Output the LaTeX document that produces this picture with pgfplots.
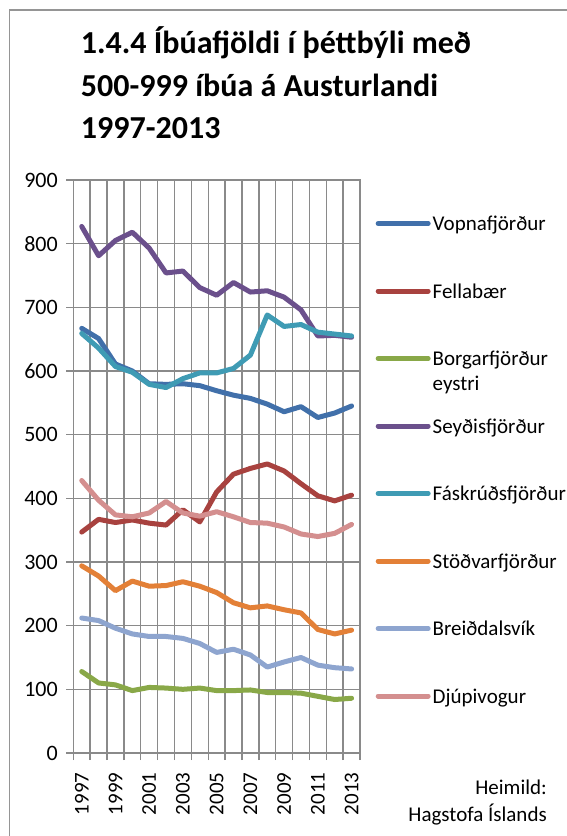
\documentclass[border=0pt]{standalone}
\usepackage{pgfplots}
\pgfplotsset{compat=1.18}
\usepackage{fontspec}
\setmainfont{Carlito}
\definecolor{cVop}{HTML}{4170AA}
\definecolor{cFel}{HTML}{A8423F}
\definecolor{cBor}{HTML}{89A848}
\definecolor{cSey}{HTML}{6B508C}
\definecolor{cFas}{HTML}{3F9BB4}
\definecolor{cSto}{HTML}{E38037}
\definecolor{cBre}{HTML}{8EA5CF}
\definecolor{cDju}{HTML}{D48F8F}
\definecolor{gridgray}{HTML}{8A8A8A}
\definecolor{framegray}{HTML}{959595}
\newcommand\ticksize{\fontsize{21}{25}\selectfont}
\pgfplotstableread{
i Vop Fel Bor Sey Fas Sto Bre Dju
0 667 347 128 827 659 294 212 428
1 651 367 110 781 636 278 208 397
2 611 362 107 805 607 255 196 374
3 600 366 98 818 598 270 187 371
4 580 361 103 793 579 262 183 377
5 579 358 102 754 574 263 183 395
6 580 382 100 757 588 269 180 377
7 577 363 102 731 597 262 172 372
8 569 410 98 719 597 252 158 379
9 562 438 98 739 604 236 163 371
10 557 447 99 724 625 228 154 362
11 548 454 95 726 688 231 135 361
12 536 443 95 716 670 225 143 355
13 544 423 94 696 673 220 150 344
14 527 404 89 655 661 194 138 340
15 534 396 84 656 658 187 134 345
16 545 405 86 653 655 193 132 359
}\datatable
\begin{document}
\begin{tikzpicture}[x=1pt,y=1pt]
\draw[framegray, line width=1.6pt] (9.5,-40) -- (9.5,826) -- (640,826);
\begin{axis}[
  at={(73.3pt,83pt)}, anchor=south west,
  scale only axis, width=286.7pt, height=573pt,
  xmin=-0.5, xmax=16.5, ymin=0, ymax=900,
  xtick={0,2,...,16},
  xticklabels={1997,1999,2001,2003,2005,2007,2009,2011,2013},
  minor xtick={-0.5,0.5,...,16.5},
  ytick={0,100,...,900},
  yticklabels={0,100,200,300,400,500,600,700,800,900},
  xminorgrids=true, xmajorgrids=false, ymajorgrids=true,
  grid style={gridgray, line width=1.4pt},
  minor grid style={gridgray, line width=1.4pt},
  major grid style={gridgray, line width=1.4pt},
  axis line style={gridgray, line width=1.4pt},
  tick align=outside, xtick pos=lower, ytick pos=left,
  major tick length=7pt, minor tick length=7pt,
  tick style={gridgray, line width=1.4pt},
  major x tick style={draw=none},
  xticklabel style={rotate=90, anchor=east, font=\ticksize},
  yticklabel style={font=\fontsize{22}{26}\selectfont, xshift=-5pt},
  xticklabel shift=9pt,
  legend cell align=left,
  legend image code/.code={\draw[#1, line cap=round] (0pt,0pt) -- (50pt,0pt);},
  legend style={at={(axis description cs:1.054,0.9419)}, anchor=north west,
    draw=none, fill=none, font=\ticksize, inner sep=0pt, row sep=47.5pt,
    nodes={inner sep=0pt, text height=17pt, text depth=3pt},
    /tikz/every odd column/.append style={column sep=2pt}},
  every axis plot/.append style={line width=5pt, line join=round, line cap=round},
  clip=false,
]
\addplot[cVop] table[x=i, y=Vop] {\datatable};
\addlegendentry{Vopnafjörður}
\addplot[cFel] table[x=i, y=Fel] {\datatable};
\addlegendentry{Fellabær}
\addplot[cBor] table[x=i, y=Bor] {\datatable};
\addlegendentry{\rlap{\raisebox{-25pt}[0pt][0pt]{eystri}}Borgarfjörður}
\addplot[cSey] table[x=i, y=Sey] {\datatable};
\addlegendentry{Seyðisfjörður}
\addplot[cFas] table[x=i, y=Fas] {\datatable};
\addlegendentry{Fáskrúðsfjörður}
\addplot[cSto] table[x=i, y=Sto] {\datatable};
\addlegendentry{Stöðvarfjörður}
\addplot[cBre] table[x=i, y=Bre] {\datatable};
\addlegendentry{Breiðdalsvík}
\addplot[cDju] table[x=i, y=Dju] {\datatable};
\addlegendentry{Djúpivogur}
\end{axis}
\begin{scope}[every node/.style={font=\bfseries\fontsize{32}{38}\selectfont, anchor=base west, inner sep=0pt}]
\node at (80.7,782.7) {1.4.4 Íbúafjöldi í þéttbýli með};
\node at (80.7,739.3) {500-999 íbúa á Austurlandi};
\node at (80.7,697.7) {1997-2013};
\end{scope}
\begin{scope}[every node/.style={font=\ticksize, anchor=base east, inner sep=0pt}]
\node at (547,41) {Heimild:};
\node at (547,14.3) {Hagstofa Íslands};
\end{scope}
\pgfresetboundingbox
\path[use as bounding box] (0,0) rectangle (566,836);
\end{tikzpicture}
\end{document}
